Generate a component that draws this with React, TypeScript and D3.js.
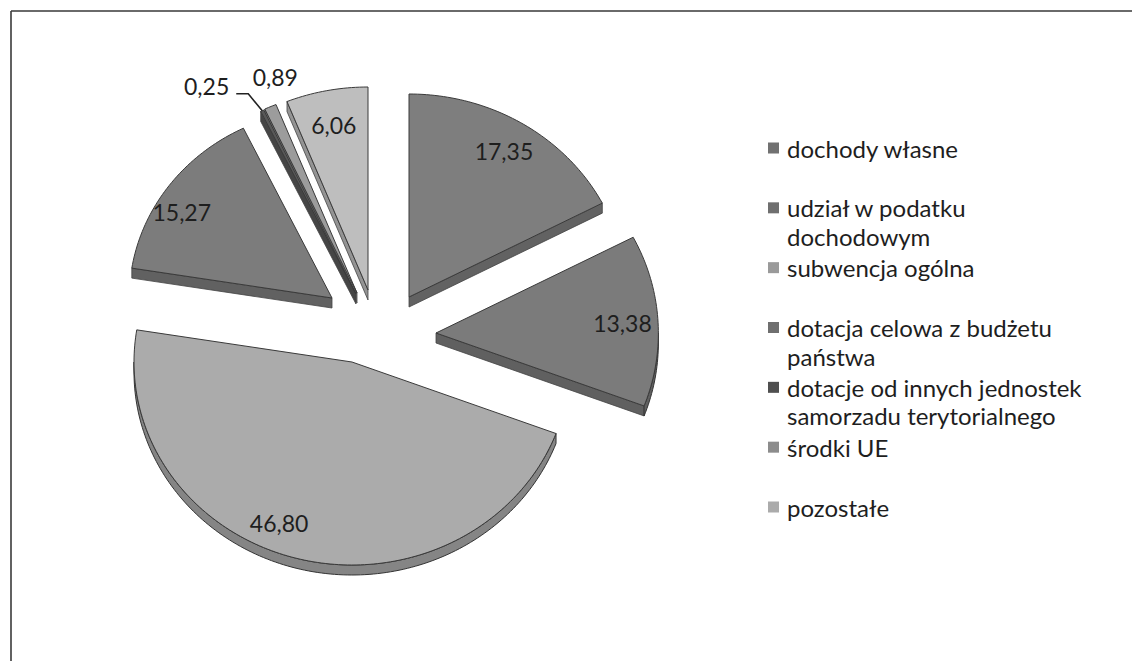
import React, { useEffect, useRef } from 'react';
import * as d3 from 'd3';

// data (percent shares)
const categories = [
  'dochody własne',
  'udział w podatku dochodowym',
  'subwencja ogólna',
  'dotacja celowa z budżetu państwa',
  'dotacje od innych jednostek samorzadu terytorialnego',
  'środki UE',
  'pozostałe',
];
const values = [17.35, 13.38, 46.8, 15.27, 0.25, 0.89, 6.06];
const legendLines = [
  ['dochody własne'],
  ['udział w podatku', 'dochodowym'],
  ['subwencja ogólna'],
  ['dotacja celowa z budżetu', 'państwa'],
  ['dotacje od innych jednostek', 'samorzadu terytorialnego'],
  ['środki UE'],
  ['pozostałe'],
];

// styling / layout of the 3D exploded pie
const topFill = ['#7e7e7e', '#7b7b7b', '#ababab', '#7c7c7c', '#585858', '#9c9c9c', '#bebebe'];
const explode: [number, number][] = [[34, -25], [61, 11], [-23, 40], [-43, -24], [-19, -28], [-18, -29], [-7, -32]];
const sliceScale = [1, 1.02, 1, 0.93, 1, 1, 1];
// label placement: [angle shift in degrees, radius fraction], mode
const labelPlace: [number, number][] = [[0, 0.84], [0, 0.84], [8, 0.86], [-5, 0.87], [0, 1], [0, 1], [0, 0.83]];
const labelMode = ['inside', 'inside', 'inside', 'inside', 'leader', 'above', 'inside'];

const W = 1132;
const H = 661;

const fmt = d3.formatLocale({ decimal: ',', thousands: ' ', grouping: [3], currency: ['', ''] }).format('.2f');

export default function App() {
  const svgRef = useRef<SVGSVGElement>(null);

  useEffect(() => {
    if (!svgRef.current) return;
    const svg = d3.select(svgRef.current);
    svg.selectAll('*').remove();

    const cx = 375;
    const cy = 322;
    const rx = 218;
    const ry = 203;
    const depth = 10;
    const font = "Lato, 'Open Sans', sans-serif";

    // frame of the scanned figure
    svg.append('line').attr('x1', 11).attr('y1', 11).attr('x2', W).attr('y2', 11)
      .attr('stroke', '#6a6a6a').attr('stroke-width', 2);
    svg.append('line').attr('x1', 11).attr('y1', 11).attr('x2', 11).attr('y2', H)
      .attr('stroke', '#3a3a3a').attr('stroke-width', 1.6);

    const arcs = d3.pie<number>().sort(null).value(d => d)(values);

    const slices = arcs.map((a, i) => {
      const s = sliceScale[i];
      const ox = cx + explode[i][0];
      const oy = cy + explode[i][1];
      const pt = (ang: number, f = 1): [number, number] =>
        [ox + rx * s * f * Math.sin(ang), oy - ry * s * f * Math.cos(ang)];
      return { a, i, ox, oy, pt };
    });

    const line = d3.line();
    const arcPts = (pt: (a: number) => [number, number], a0: number, a1: number) => {
      const n = Math.max(2, Math.ceil((a1 - a0) / 0.02));
      return d3.range(n + 1).map(k => pt(a0 + ((a1 - a0) * k) / n));
    };
    const down = (p: [number, number]): [number, number] => [p[0], p[1] + depth];

    const order = [...slices].sort((p, q) => p.oy - q.oy);
    const g = svg.append('g');

    order.forEach(({ a, i, ox, oy, pt }) => {
      const a0 = a.startAngle;
      const a1 = a.endAngle;
      const top = d3.color(topFill[i])!;
      const wall = top.darker(0.7).formatHex();
      const apex: [number, number] = [ox, oy];
      const sg = g.append('g');

      // radial wall at start edge
      if (Math.sin(a0) < -1e-6) {
        const e = pt(a0);
        sg.append('path').attr('d', line([apex, e, down(e), down(apex)]) + 'Z')
          .attr('fill', wall).attr('stroke', '#444').attr('stroke-width', 0.8);
      }
      // radial wall at end edge
      if (Math.sin(a1) > 1e-6) {
        const e = pt(a1);
        sg.append('path').attr('d', line([apex, e, down(e), down(apex)]) + 'Z')
          .attr('fill', wall).attr('stroke', '#444').attr('stroke-width', 0.8);
      }
      // outer wall where the rim faces the viewer
      const v0 = Math.max(a0, Math.PI / 2);
      const v1 = Math.min(a1, (3 * Math.PI) / 2);
      if (v1 > v0) {
        const rim = arcPts(a => pt(a), v0, v1);
        const poly = [...rim, ...rim.map(down).reverse()];
        sg.append('path').attr('d', line(poly) + 'Z')
          .attr('fill', wall).attr('stroke', '#333').attr('stroke-width', 1);
      }
      // top face
      const face = [apex, ...arcPts(a => pt(a), a0, a1)];
      sg.append('path').attr('d', line(face) + 'Z')
        .attr('fill', top.formatHex()).attr('stroke', '#3a3a3a').attr('stroke-width', 1)
        .attr('stroke-linejoin', 'round');
    });

    // value labels
    const lg = svg.append('g').attr('font-family', font).attr('font-size', 23).attr('fill', '#1e1e1e');
    slices.forEach(({ a, i, pt }) => {
      const mid = (a.startAngle + a.endAngle) / 2;
      const txt = fmt(values[i]);
      const mode = labelMode[i];
      if (mode === 'inside') {
        const [shift, f] = labelPlace[i];
        const p = pt(mid + (shift * Math.PI) / 180, f);
        lg.append('text').attr('x', p[0]).attr('y', p[1]).attr('text-anchor', 'middle')
          .attr('dominant-baseline', 'central').text(txt);
      } else if (mode === 'leader') {
        const p = pt(mid, labelPlace[i][1]);
        const elbow: [number, number] = [p[0] - 14, p[1] - 17];
        const end: [number, number] = [elbow[0] - 12, elbow[1]];
        svg.append('path').attr('d', line([p, elbow, end])).attr('fill', 'none')
          .attr('stroke', '#222').attr('stroke-width', 1.6);
        lg.append('text').attr('x', end[0] - 7).attr('y', end[1] + 1).attr('text-anchor', 'end').text(txt);
      } else {
        const p = pt(mid, labelPlace[i][1]);
        lg.append('text').attr('x', p[0] + 5).attr('y', p[1] - 21).attr('text-anchor', 'middle').text(txt);
      }
    });

    // legend
    const leg = svg.append('g').attr('font-family', font).attr('font-size', 24).attr('fill', '#1e1e1e');
    const rowY = d3.scaleLinear().domain([0, categories.length - 1]).range([148, 507]);
    categories.forEach((_, i) => {
      const y = rowY(i);
      leg.append('rect').attr('x', 768).attr('y', y - 5.5).attr('width', 11).attr('height', 11)
        .attr('fill', d3.color(topFill[i])!.darker(0.3).formatHex());
      legendLines[i].forEach((ln, k) => {
        leg.append('text').attr('x', 787).attr('y', y + k * 28.5)
          .attr('dominant-baseline', 'central').text(ln);
      });
    });
  }, []);

  return (
    <svg
      ref={svgRef}
      width={W}
      height={H}
      style={{ position: 'absolute', left: 0, top: 0, background: '#fff' }}
    />
  );
}
